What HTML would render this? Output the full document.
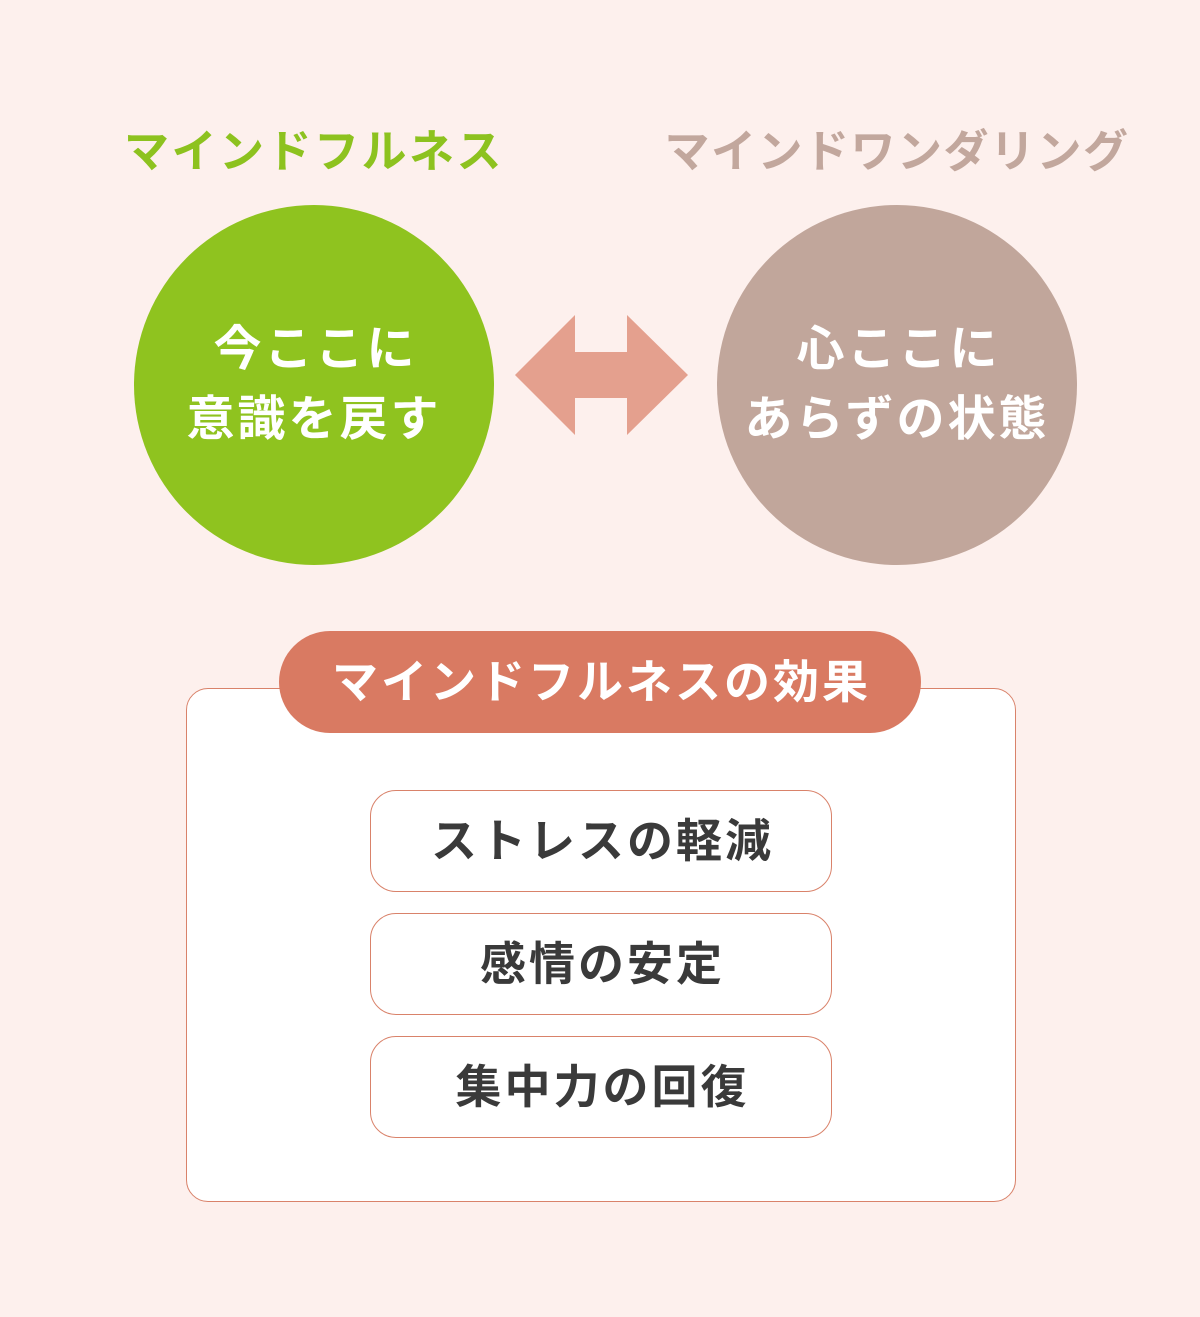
<!DOCTYPE html>
<html><head><meta charset="utf-8"><style>
body{margin:0;width:1200px;height:1317px;background:#fdf0ed;position:relative;overflow:hidden;font-family:"Liberation Sans","Noto Sans CJK JP",sans-serif;font-weight:bold}
.a{position:absolute;text-align:center}
.t{font-size:45px;top:124px;line-height:56px}
.c{border-radius:50%;width:360px;height:360px;top:205px;color:#fff;font-size:48px;line-height:70px;display:flex;align-items:center;justify-content:center;letter-spacing:3px;text-indent:3px}
.i{left:370px;width:460px;height:100px;border:1px solid #d9826a;border-radius:26px;background:#fff;font-size:46px;line-height:100px;color:#3a3a3a;letter-spacing:3px;text-indent:3px}
</style></head><body>
<div class="a t" style="left:64px;width:500px;color:#8dc21f;letter-spacing:2.5px">マインドフルネス</div>
<div class="a t" style="left:597px;width:600px;color:#c2a79d;letter-spacing:1.5px">マインドワンダリング</div>
<div class="a c" style="left:134px;background:#8fc31f">今ここに<br>意識を戻す</div>
<div class="a c" style="left:717px;background:#c1a69b">心ここに<br>あらずの状態</div>
<svg class="a" style="left:0;top:0" width="1200" height="1317"><polygon fill="#e4a08e" points="515,375 575,315 575,352 627,352 627,315 688,375 627,435 627,398 575,398 575,435"/></svg>
<div class="a" style="left:186px;top:688px;width:828px;height:512px;border:1px solid #d9826a;border-radius:22px;background:#fff"></div>
<div class="a" style="left:279px;top:631px;width:642px;height:102px;border-radius:51px;background:#d97a62;color:#fff;font-size:46px;line-height:102px;letter-spacing:3px;text-indent:3px">マインドフルネスの効果</div>
<div class="a i" style="top:790px">ストレスの軽減</div>
<div class="a i" style="top:913px">感情の安定</div>
<div class="a i" style="top:1036px">集中力の回復</div>
</body></html>
